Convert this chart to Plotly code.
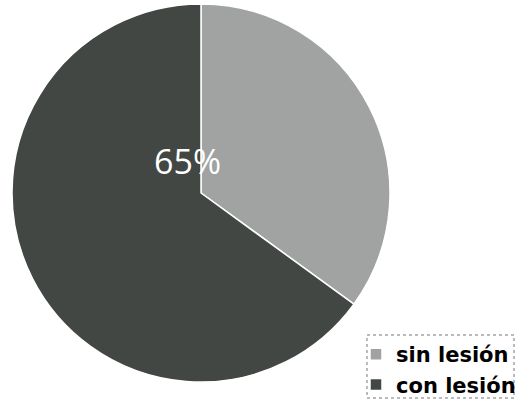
import plotly.graph_objects as go

labels = ["sin lesión", "con lesión"]
values = [35, 65]
colors = ["#a0a3a1", "#424744"]

W, H = 516, 402

fig = go.Figure(go.Pie(
    labels=labels,
    values=values,
    sort=False,
    direction="clockwise",
    rotation=0,
    marker=dict(colors=colors, line=dict(color="white", width=1.5)),
    textinfo="none",
    hoverinfo="label+percent",
    domain=dict(x=[12 / W, 390 / W], y=[(H - 382) / H, (H - 4) / H]),
))

fig.add_annotation(
    x=187 / W, y=(H - 161) / H, xref="paper", yref="paper",
    text="65%", showarrow=False,
    font=dict(family="Open Sans", size=34, color="white"),
)

fig.add_shape(
    type="rect", xref="paper", yref="paper",
    x0=367 / W, x1=514 / W, y0=(H - 398) / H, y1=(H - 335) / H,
    line=dict(color="#777777", width=1, dash="dot"),
)

fig.update_layout(
    width=W, height=H,
    margin=dict(l=0, r=0, t=0, b=0, autoexpand=False),
    paper_bgcolor="white",
    plot_bgcolor="white",
    showlegend=True,
    legend=dict(
        x=356 / W, y=(H - 334) / H, xanchor="left", yanchor="top",
        font=dict(family="DejaVu Sans", size=21, color="black", weight="bold"),
        tracegroupgap=0, itemwidth=30,
        bgcolor="rgba(0,0,0,0)",
    ),
)

fig.write_html(
    "out.html",
    config={"displayModeBar": False},
    post_script="document.body.style.margin='0';document.body.style.overflow='hidden';",
)
